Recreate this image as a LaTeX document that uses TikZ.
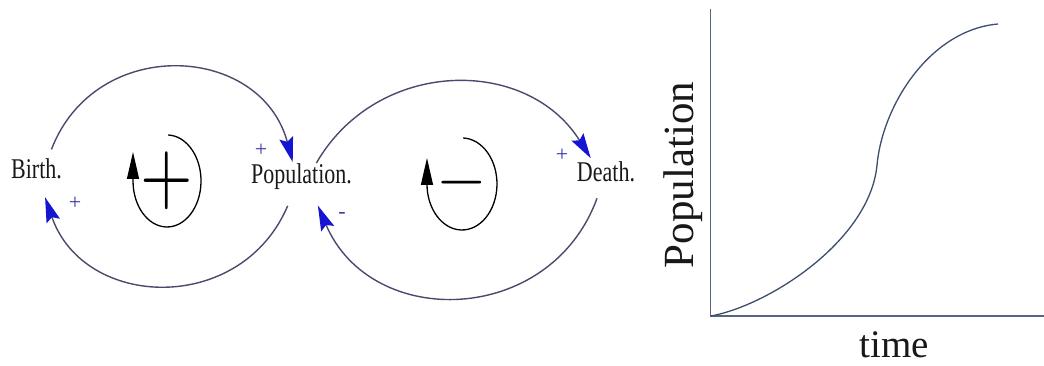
\documentclass[tikz,border=0pt]{standalone}
\usepackage{fontspec}
\setmainfont{Liberation Serif}
\usetikzlibrary{arrows.meta}
\definecolor{linkc}{HTML}{4A4A6E}
\definecolor{tipc}{HTML}{1414D2}
\definecolor{signc}{HTML}{3A3AA8}
\definecolor{axisc}{HTML}{56667E}
\definecolor{curvec}{HTML}{3E4E6E}
\begin{document}
\begin{tikzpicture}[x=1pt,y=1pt,
  var/.style={inner sep=0pt, anchor=base, text=black!90, font=\fontsize{22}{22}\selectfont},
  link/.style={draw=linkc, line width=1.4pt, -{Stealth[length=25pt,width=14pt,inset=4pt,color=tipc]}},
  sign/.style={text=signc, font=\fontsize{22}{22}\selectfont, inner sep=0pt},
  loopline/.style={draw=black, line width=1.3pt, -{Triangle[length=27pt,width=12pt]}},
  big/.style={inner sep=0pt},
  axis/.style={draw=axisc, line width=1.3pt},
  curve/.style={draw=curvec, line width=1.3pt},
  lab/.style={inner sep=0pt, anchor=base, text=black!90},
]
\useasboundingbox[fill=white] (0,0) rectangle (1044,-366);

% variables
\node[var] (birth) at (36.5,-179) {\scalebox{1}[1.3]{Birth.}};
\node[var] (pop) at (301.5,-184) {\scalebox{1}[1.3]{Population.}};
\node[var] (death) at (606,-182) {\scalebox{1}[1.3]{Death.}};

% links
\draw[link] ([shift={(14.9,29.5)}]birth.base) .. controls +(69:123) and +(105:123) .. ([shift={(-8.8,21.9)}]pop.base);
\draw[link] ([shift={(-13.8,-21.8)}]pop.base) .. controls +(-113:119) and +(-71:119) .. ([shift={(8.6,-18.3)}]birth.base);
\draw[link] ([shift={(14.9,21)}]pop.base) .. controls +(60:121) and +(122:121) .. ([shift={(-15.3,23.8)}]death.base);
\draw[link] ([shift={(-9,-16.3)}]death.base) .. controls +(-110:136) and +(-67:136) .. ([shift={(16.4,-21.6)}]pop.base);

% polarity signs
\node[sign] (s1) at (261,-150) {+};
\node[sign] (s2) at (75,-203) {+};
\node[sign] (s3) at (342,-215) {-};
\node[sign] (s4) at (562,-155) {+};

% loop symbols
\coordinate (loopL) at (167,-181);
\draw[loopline] ([shift={(1.2,46)}]loopL) arc[start angle=88,end angle=-180,x radius=34,y radius=46] -- ++(0,29);
\node[big] (plusL) at (167,-181) {\scalebox{6.75}[8.7]{$+$}};
\coordinate (loopR) at (462,-184);
\draw[loopline] ([shift={(1.2,46)}]loopR) arc[start angle=88,end angle=-180,x radius=35,y radius=46] -- ++(0,26);
\node[big] (minusR) at (462,-183) {\scalebox{6.5}[6.75]{$-$}};

% graph
\coordinate (ytop) at (710.5,-9);
\coordinate (O) at (710.5,-316);
\coordinate (xend) at (1044,-316);
\draw[axis] (ytop) -- (O) -- (xend);
\draw[curve] (711,-316) .. controls (770,-305) and (870,-240) .. (877,-165)
  .. controls (882.6,-105) and (930,-30) .. (998,-24);
\node[lab, rotate=90, font=\fontsize{43}{43}\selectfont] (ylab) at (693,-175) {Population};
\node[lab, font=\fontsize{39}{39}\selectfont] (xlab) at (894,-357) {time};
\end{tikzpicture}
\end{document}
